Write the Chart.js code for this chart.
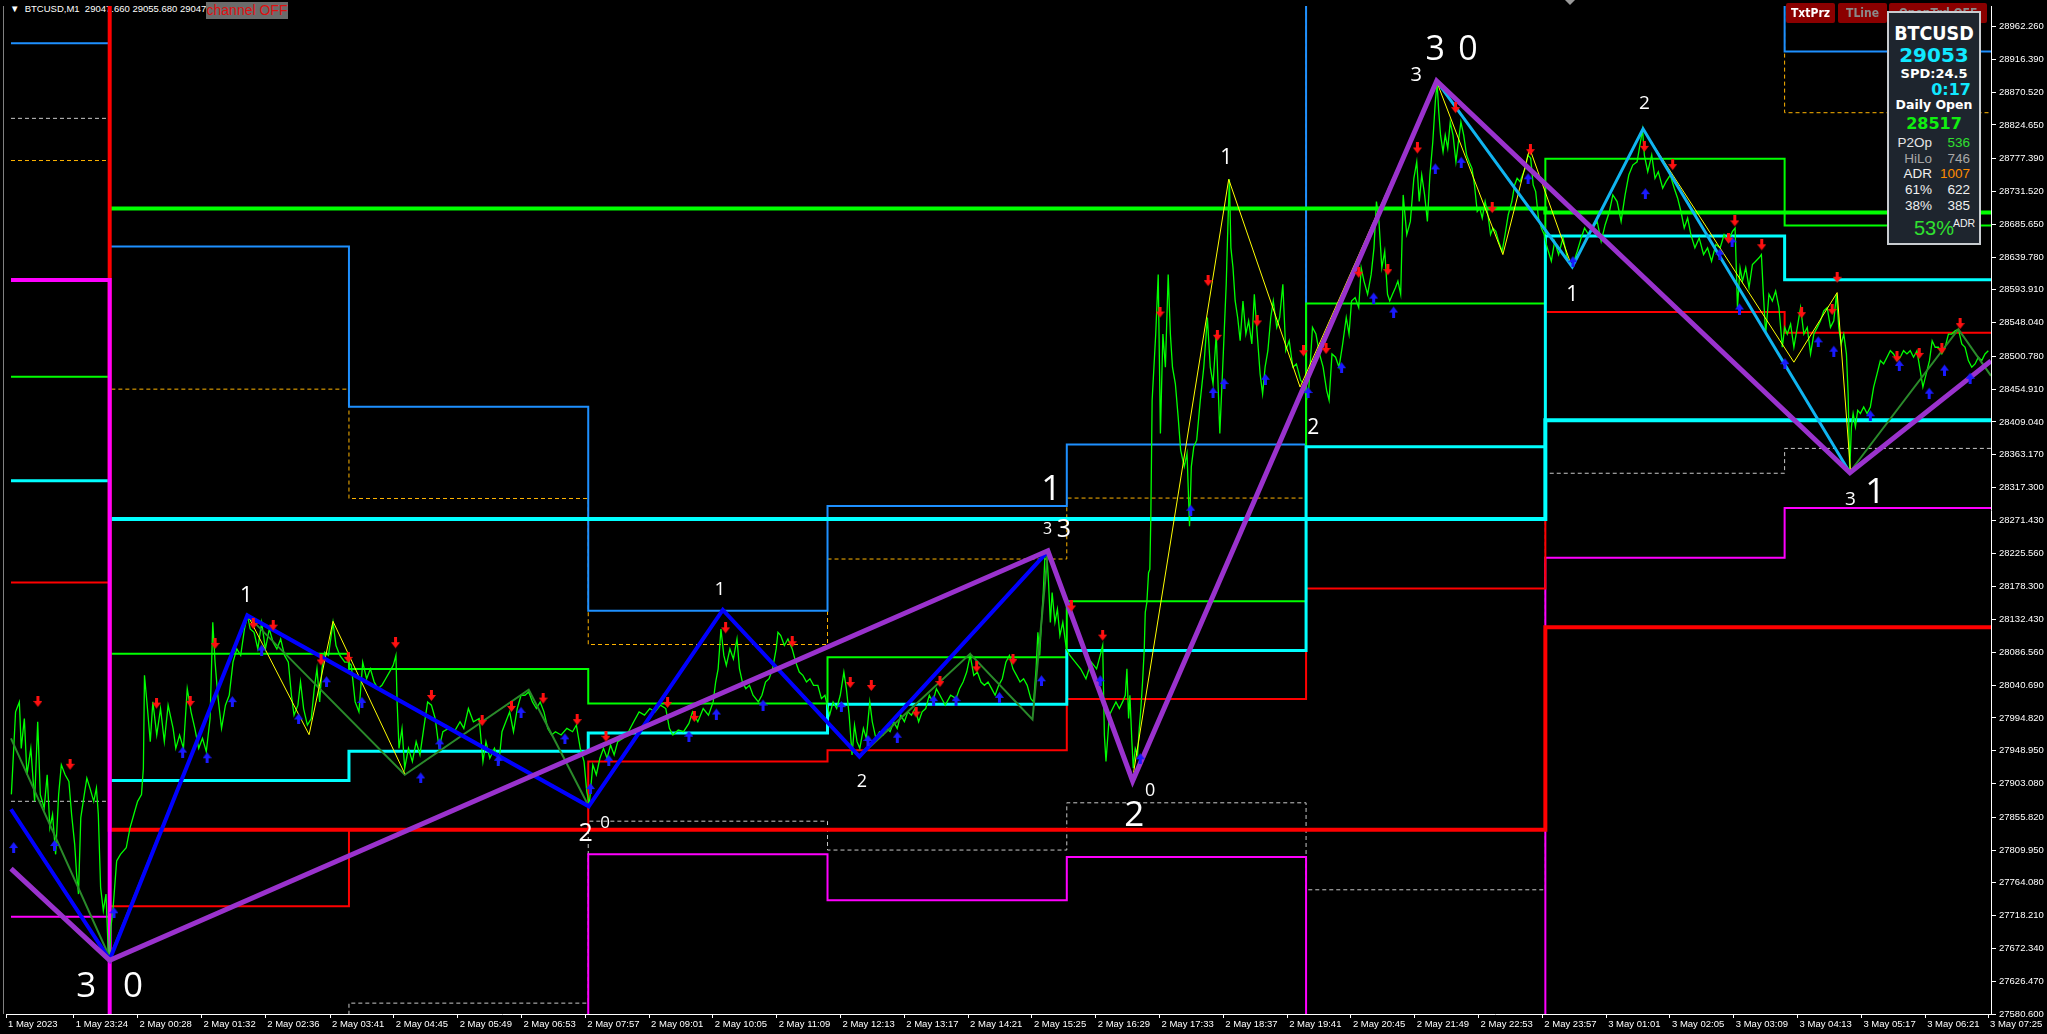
<!DOCTYPE html>
<html><head><meta charset="utf-8">
<script src="https://cdn.jsdelivr.net/npm/chart.js@4.4.1/dist/chart.umd.min.js"></script>
<style>
html,body{margin:0;padding:0;background:#000;overflow:hidden;}
#wrap{position:relative;width:2047px;height:1034px;background:#000;}
#chartBox{position:absolute;left:0;top:0;width:2047px;height:1034px;z-index:1;}
.abs{position:absolute;white-space:nowrap;}
#hdr{left:10px;top:2px;z-index:0;color:#fff;font:9.5px 'Liberation Sans',sans-serif;line-height:13px;}
#chOff{left:206px;top:2px;width:82px;height:17px;background:#6b6b6b;color:#e01010;z-index:2;font:14px 'Liberation Sans',sans-serif;line-height:17px;text-align:center;}
.btn{top:3px;height:20px;background:#8b0000;z-index:2;font:bold 12px 'DejaVu Sans Condensed','Liberation Sans',sans-serif;line-height:20px;text-align:center;border-radius:2px;}
#panel{left:1887px;top:11px;width:94px;height:234px;box-sizing:border-box;background:#1e252e;border:2px solid #c8ccd0;z-index:3;}
.pt{z-index:4;line-height:1;}
#tri{left:1565px;top:0;width:0;height:0;border-left:5px solid transparent;border-right:5px solid transparent;border-top:5px solid #9a9a9a;z-index:2;}
</style></head>
<body><div id="wrap">
<div id="hdr" class="abs">&#9660;&nbsp; BTCUSD,M1&nbsp; 29047.660 29055.680 29047.6</div>
<div id="chartBox"><canvas id="c"></canvas></div>
<div id="chOff" class="abs">channel OFF</div>
<div id="tri" class="abs"></div>
<div class="abs btn" style="left:1786px;width:49px;color:#fff;">TxtPrz</div>
<div class="abs btn" style="left:1838px;width:49px;color:#8a8a8a;">TLine</div>
<div class="abs btn" style="left:1889px;width:98px;color:#8a8a8a;">OpenTrd OFF</div>
<div id="panel" class="abs"></div>
<div class="abs pt" style="left:1887px;width:94px;top:22px;text-align:center;color:#fff;font:bold 19.5px 'DejaVu Sans Condensed','DejaVu Sans',sans-serif;">BTCUSD</div>
<div class="abs pt" style="left:1887px;width:94px;top:43px;text-align:center;color:#10e8ff;font:bold 20px 'DejaVu Sans',sans-serif;">29053</div>
<div class="abs pt" style="left:1887px;width:94px;top:66px;text-align:center;color:#fff;font:bold 13px 'DejaVu Sans',sans-serif;">SPD:24.5</div>
<div class="abs pt" style="left:1887px;width:84px;top:80px;text-align:right;color:#10e8ff;font:bold 16px 'DejaVu Sans',sans-serif;">0:17</div>
<div class="abs pt" style="left:1887px;width:94px;top:97px;text-align:center;color:#fff;font:bold 12.5px 'DejaVu Sans',sans-serif;">Daily Open</div>
<div class="abs pt" style="left:1887px;width:94px;top:114px;text-align:center;color:#10f010;font:bold 16px 'DejaVu Sans',sans-serif;">28517</div>
<div class="abs pt" style="left:1887px;width:45px;top:135px;text-align:right;color:#e6e6e6;font:13.5px 'Liberation Sans',sans-serif;">P2Op</div>
<div class="abs pt" style="left:1935px;width:35px;top:135px;text-align:right;color:#30e030;font:13.5px 'Liberation Sans',sans-serif;">536</div>
<div class="abs pt" style="left:1887px;width:45px;top:151px;text-align:right;color:#a8a8a8;font:13.5px 'Liberation Sans',sans-serif;">HiLo</div>
<div class="abs pt" style="left:1935px;width:35px;top:151px;text-align:right;color:#a8a8a8;font:13.5px 'Liberation Sans',sans-serif;">746</div>
<div class="abs pt" style="left:1887px;width:45px;top:166px;text-align:right;color:#f0f0f0;font:13.5px 'Liberation Sans',sans-serif;">ADR</div>
<div class="abs pt" style="left:1935px;width:35px;top:166px;text-align:right;color:#ff8c00;font:13.5px 'Liberation Sans',sans-serif;">1007</div>
<div class="abs pt" style="left:1887px;width:45px;top:182px;text-align:right;color:#f0f0f0;font:13.5px 'Liberation Sans',sans-serif;">61%</div>
<div class="abs pt" style="left:1935px;width:35px;top:182px;text-align:right;color:#f0f0f0;font:13.5px 'Liberation Sans',sans-serif;">622</div>
<div class="abs pt" style="left:1887px;width:45px;top:198px;text-align:right;color:#f0f0f0;font:13.5px 'Liberation Sans',sans-serif;">38%</div>
<div class="abs pt" style="left:1935px;width:35px;top:198px;text-align:right;color:#f0f0f0;font:13.5px 'Liberation Sans',sans-serif;">385</div>
<div class="abs pt" style="left:1914px;top:217px;color:#30e030;font:20px 'Liberation Sans',sans-serif;">53%</div>
<div class="abs pt" style="left:1953px;top:217px;color:#f0f0f0;font:10.5px 'Liberation Sans',sans-serif;">ADR</div>
</div>
<script>
// ---------- axis ticks ----------
const xTickPos = [0,68,132,196,260,325,389,453,517,581,645,709,773,837,901,965,1029,1093,1157,1221,1285,1349,1413,1477,1541,1605,1669,1733,1797,1861,1925,1988];
const xTickLabels = ["1 May 2023","1 May 23:24","2 May 00:28","2 May 01:32","2 May 02:36","2 May 03:41","2 May 04:45","2 May 05:49","2 May 06:53","2 May 07:57","2 May 09:01","2 May 10:05","2 May 11:09","2 May 12:13","2 May 13:17","2 May 14:21","2 May 15:25","2 May 16:29","2 May 17:33","2 May 18:37","2 May 19:41","2 May 20:45","2 May 21:49","2 May 22:53","2 May 23:57","3 May 01:01","3 May 02:05","3 May 03:09","3 May 04:13","3 May 05:17","3 May 06:21","3 May 07:25"];
const yTickValues = [28962.26,28916.39,28870.52,28824.65,28777.39,28731.52,28685.65,28639.78,28593.91,28548.04,28500.78,28454.91,28409.04,28363.17,28317.30,28271.43,28225.56,28178.30,28132.43,28086.56,28040.69,27994.82,27948.95,27903.08,27855.82,27809.95,27764.08,27718.21,27672.34,27626.47,27580.60];
const priceMin = 27580.6, priceMax = 28991.0, minuteMax = 1991;

// ---------- M1 close (minutes since 1 May 22:15) ----------
const priceMinute = [
5.4,9.6,13.4,15.3,18.4,21,24.9,28.7,31.8,34.4,38.3,41.3,44,46.7,49.8,52.8,55.5,59.3,63.1,65.8,68.9,70.8,72.7,75,78.5,81.1,84.2,88,90.7,92.6,94.9,97.6,100.3,102.6,104,105.2,
107.2,111,114.8,120.6,124.4,128.2,132,135.9,137.8,138.9,141.6,144.7,147.3,151.2,155,158.8,162.6,167.6,170.3,174.1,178,181.8,185.6,189.4,193.3,197.1,200.9,204.7,207.4,209.7,212.4,216.2,220.1,223.9,227.7,231.5,235.4,239.2,242.2,244.9,248.8,252.6,256.4,260.2,264.1,267.9,271.7,275.5,279.4,283.2,286.3,288.9,292.8,295.4,298.5,302.3,306.2,309.2,311.9,314.6,316.9,319.6,323.4,328,331,334.9,339.8,343.7,
346.3,350.2,354,357.8,361.7,365.5,369.3,373.1,377,380.8,384.6,388.4,391.1,392.3,394.2,397.2,399.9,403.7,407.6,411.4,415.2,419,422.9,426.7,430.5,434.4,438.2,443.9,449.7,455.4,459.2,463.8,468.8,474.6,478.4,481.4,485.3,489.9,494.5,497.5,501.3,505.2,509,512.8,516.6,520.5,524.3,528.1,532,535.8,539.6,543.4,547.3,551.1,556.8,562.6,568.3,572.1,576,579.8,582.5,
585,588.6,592.1,595.7,599.3,602.9,606.4,610,613.6,618.9,624.3,629.6,635,640.4,645.7,651.1,656.4,661.8,665.4,668.9,674.3,679.6,685,688.6,693.9,699.3,704.6,709.3,711.8,714.3,717.1,720,722.5,726.1,729.6,733.2,735.7,738.6,742.1,745.7,749.3,754.6,758.2,761.8,765.4,768.9,772.5,774.3,777.1,780.7,784.3,788.6,792.1,795.7,799.3,802.9,806.4,810,814.3,817.9,821.4,
826.1,829.6,833.2,836.8,840.4,842.9,845.7,848.6,851.1,853.6,856.4,860,862.9,866.4,868.9,872.5,876.1,879.6,883.2,886.8,890.4,893.9,897.5,901.1,904.6,908.2,911.8,915.4,918.9,922.5,926.1,929.6,933.2,936.8,942.1,947.5,952.9,956.4,960,963.6,967.1,970.7,974.3,977.9,981.4,985,988.6,992.1,995.7,999.3,1002.9,1006.4,1010,1013.6,1017.1,1020.7,1024.3,1027.9,1030.7,1033.2,1035,1036.8,1038.6,1040.4,1042.1,1043.9,1045.7,1047.5,1049.3,1052.1,1054.6,1057.1,1060,1063.6,
1067.1,1072.5,1077.9,1083.2,1088.6,1093.9,1097.5,1100,1101.7,1103.3,1106.7,1110,1113.3,1116.7,1120,1122.7,1124.3,1126,1127.3,1129.3,1130.7,1132.7,1135,1136.7,1138.3,1140,1141.7,1142.7,1144.3,1146,1147.3,1148.3,1149.6,1153.2,1155.7,1157.9,1160.4,1162.9,1165.7,1167.9,1170,1172.9,1175.7,1178.2,1181.8,1184.6,1187.1,1188.9,1191.4,1194.3,1197.9,1201.4,1205,1207.9,1210.7,1213.9,1217.5,1221.1,1223.9,1225.7,1227.1,1228.6,1230.7,1232.9,1235.4,1237.9,1240.7,1243.6,1246.4,1249.6,1252.1,1255,1257.9,1260.4,1262.9,1265.7,1268.6,1271.1,1274.6,1277.5,1280.7,1283.6,1287.1,1290.7,1294.3,1298.6,1302.1,
1304.3,1306.8,1310.4,1313.9,1317.5,1321.1,1324.6,1327.1,1330,1333.6,1337.1,1340.7,1344.3,1347.1,1349.6,1353.2,1356.8,1359.3,1362.1,1365.7,1369.3,1372.1,1374.6,1377.1,1380,1382.9,1385.7,1387.9,1390.7,1393.6,1396.1,1398.9,1401.4,1405,1408.6,1412.1,1415,1417.5,1420,1422.9,1425.7,1428.2,1431.1,1433.6,1435.4,1437.1,1438.9,1441.4,1443.6,1446.1,1448.6,1451.4,1454.3,1456.8,1459.3,1462.1,1465,1467.5,1470.4,1472.9,1475.7,1478.2,1480.7,1483.6,1486.4,1489,1491.4,1494.3,1497.1,1500.7,1503.6,1506.8,1510.4,1513.2,1515.7,1518.6,1521.1,1523.9,1526.4,1529.3,1531.8,1534.3,1537.1,1540,1542.9,
1545,1550,1553.3,1557.3,1561.7,1566.7,1571.7,1576,1580,1583.3,1587.3,1591.7,1596,1600,1604,1608.3,1611.7,1616,1620,1624,1627.7,1631.7,1636,1641.5,1643.3,1646.7,1650.7,1654,1657.3,1661.7,1665,1669.3,1673.3,1676.7,1680,1683.3,1686.7,1690,1694,1698.3,1702.7,1706.7,1710.7,1715,1719.3,1723.3,1727.3,1731.7,1734.3,1736.7,1739.3,1741.7,1745,1748.3,1751.7,1755,1758.3,1760.7,1762.7,1765,1768.3,1771.7,1775,1778.3,1781.7,1784,
1786.7,1790,1793.3,1796.7,1800,1803.3,1806.7,1810,1813.3,1816.7,1820,1823.3,1826.7,1830,1833.3,1836,1838.3,1840.7,1843.3,1846,1847.7,1849.3,1851,1852.7,1855,1857.3,1860,1863.3,1866.7,1870,1873.3,1876.7,1880,1883.3,1886.7,1890,1893.3,1896.7,1900,1903.3,1906.7,1910,1913.3,1916.7,1920,1922.7,1926,1929.3,1932,1935,1938.3,1941.7,1945,1948.3,1951.7,1955,1958.3,1961.7,1965,1968.3,1971.7,1975,1978.3,1981.7,1985,1988.3];
const priceClose = [
27887.9,28003.4,28017.3,27952.3,27994.1,27915.3,27952.3,27878.2,27989.5,27887.5,27868.9,27915.3,27841.1,27859.7,27804.0,27887.5,27929.2,27915.3,27906.0,27859.7,27818.0,27776.2,27748.4,27855.0,27887.5,27910.6,27896.7,27878.2,27896.7,27859.7,27757.6,27725.2,27748.4,27665.0,27659.0,27702.0,
27725.2,27794.7,27804.0,27813.2,27841.1,27859.7,27878.2,27887.5,27924.5,28054.4,28012.7,27961.7,28017.3,27971.0,28008.0,27961.7,28012.7,27980.2,27952.3,27971.0,27952.3,28035.8,28003.4,27980.2,27952.3,27966.3,27947.8,27994.1,28128.6,28072.9,28026.6,27980.2,28012.7,28026.6,28072.9,28091.4,28082.3,28119.3,28137.9,28119.3,28114.7,28091.4,28128.6,28091.4,28119.3,28100.8,28091.4,28105.3,28082.3,28072.9,28026.6,27998.8,28012.7,28045.1,28008.0,27984.9,27994.1,28035.8,28063.6,28017.3,28063.6,28086.9,28082.3,28128.6,28096.2,28082.3,28072.9,28072.9,
28068.4,28017.3,28003.4,28072.9,28049.7,28063.6,28045.1,28035.8,28040.5,28049.7,28059.0,28068.4,28082.3,28017.3,27952.3,27980.2,27924.5,27952.3,27933.8,27961.7,27943.2,27980.2,28017.3,28012.7,27994.1,27952.3,27975.6,27980.2,27975.6,27989.5,27980.2,28008.0,27989.5,27994.1,27933.8,27961.7,27938.4,27952.3,27933.8,27975.6,27989.5,28003.4,27975.6,28008.0,28026.6,28026.6,28031.2,28017.3,28008.0,28017.3,28003.4,27980.2,27971.0,27975.6,27971.0,27980.2,27975.6,27984.9,27952.3,27933.8,27892.1,
27873.6,27929.2,27915.3,27938.4,27952.3,27938.4,27957.1,27943.2,27961.7,27966.3,27975.6,27989.5,28003.4,27998.8,28008.0,28003.4,28012.7,28008.0,27980.2,27971.0,27977.9,27975.6,27987.1,28003.4,27989.5,28008.0,27998.8,28017.3,28045.1,28063.6,28119.3,28082.3,28068.4,28091.4,28077.5,28105.3,28063.6,28045.1,28035.8,28040.5,28026.6,28017.3,28026.6,28045.1,28049.7,28063.6,28091.4,28114.7,28110.1,28096.2,28105.3,28091.4,28072.9,28059.0,28054.4,28045.1,28049.7,28040.5,28040.5,28021.9,28026.6,
27998.8,28017.3,28008.0,28026.6,28059.0,28035.8,27998.8,27943.2,27984.9,27961.7,27952.3,27980.2,27966.3,28017.3,27989.5,27966.3,27975.6,27971.0,27980.2,27975.6,27989.5,27980.2,27998.8,27989.5,28003.4,27998.8,28008.0,27989.5,28003.4,28008.0,28026.6,28017.3,28035.8,28026.6,28012.7,28026.6,28021.9,28035.8,28045.1,28059.0,28082.3,28054.4,28059.0,28045.1,28040.5,28045.1,28035.8,28026.6,28040.5,28049.7,28072.9,28082.3,28063.6,28054.4,28045.1,28049.7,28040.5,28021.9,28017.3,28063.6,28114.7,28082.3,28128.6,28170.3,28222.0,28226.0,28184.2,28128.6,28170.3,28128.6,28147.1,28110.1,28128.6,28091.4,
28082.3,28072.9,28063.6,28049.7,28072.9,28063.6,28082.3,28096.2,27971.0,27933.8,27998.8,28008.0,28017.3,28008.0,28017.3,28026.6,28063.6,27994.1,28026.6,27961.7,27924.5,27952.3,27943.2,27980.2,28008.0,28045.1,28091.4,28142.5,28156.4,28198.1,28202.7,28277.0,28439.2,28532.0,28615.4,28392.9,28532.0,28485.6,28615.4,28532.0,28485.6,28462.4,28416.1,28369.6,28346.5,28365.1,28263.1,28346.5,28374.4,28383.5,28439.2,28485.6,28555.2,28485.6,28462.4,28532.0,28392.9,28508.7,28601.5,28689.6,28748.5,28652.6,28624.7,28578.3,28555.2,28522.6,28578.3,28532.0,28550.5,28518.1,28587.6,28532.0,28476.3,28448.5,28485.6,28508.7,28555.2,28578.3,28541.3,28555.2,28601.5,28508.7,28522.6,28485.6,28490.2,28467.0,28462.4,
28439.2,28457.8,28541.3,28532.0,28504.2,28485.6,28453.1,28439.2,28504.2,28499.6,28485.6,28518.1,28555.2,28532.0,28578.3,28583.0,28569.1,28624.7,28606.1,28587.6,28615.4,28652.6,28717.4,28689.6,28624.7,28647.8,28587.6,28578.3,28587.6,28596.9,28606.1,28587.6,28726.7,28671.1,28689.6,28749.9,28773.0,28717.4,28754.5,28726.7,28689.6,28754.5,28800.8,28856.5,28884.0,28842.6,28810.2,28786.9,28810.2,28791.7,28828.7,28810.2,28773.0,28800.8,28828.7,28810.2,28782.4,28773.0,28763.8,28740.6,28703.5,28708.2,28694.3,28717.4,28698.9,28671.1,28680.4,28675.7,28661.7,28647.8,28671.1,28698.9,28717.4,28740.6,28749.9,28745.2,28754.5,28763.8,28782.4,28777.8,28740.6,28731.3,28694.3,28680.4,28671.1,
28657.2,28633.9,28661.7,28643.3,28666.5,28633.9,28629.3,28647.8,28666.5,28680.4,28671.1,28680.4,28689.6,28661.7,28685.0,28703.5,28726.7,28717.4,28689.6,28726.7,28754.5,28768.4,28773.0,28818.0,28782.4,28759.1,28782.4,28749.9,28759.1,28736.0,28745.2,28754.5,28736.0,28722.1,28703.5,28680.4,28694.3,28671.1,28652.6,28666.5,28643.3,28652.6,28633.9,28657.2,28652.6,28671.1,28661.7,28675.7,28680.4,28569.1,28624.7,28606.1,28624.7,28596.9,28629.3,28633.9,28638.7,28643.3,28587.6,28532.0,28587.6,28578.3,28592.2,28569.1,28513.5,28541.3,
28532.0,28545.9,28513.5,28541.3,28569.1,28532.0,28541.3,28504.2,28532.0,28541.3,28550.5,28564.4,28569.1,28541.3,28550.5,28587.6,28541.3,28518.1,28532.0,28504.2,28448.5,28340.0,28402.2,28420.7,28402.2,28425.3,28420.7,28430.0,28420.7,28430.0,28457.8,28476.3,28494.8,28490.2,28499.6,28508.7,28504.2,28494.8,28499.6,28508.7,28504.2,28508.7,28499.6,28508.7,28480.9,28457.8,28476.3,28494.8,28522.6,28513.5,28513.5,28504.2,28513.5,28532.0,28532.0,28536.6,28538.9,28518.1,28513.5,28494.8,28485.6,28490.2,28499.6,28494.8,28504.2,28508.7];

// ---------- zigzag swings ----------
const purpleMinute = [5,104,1045,1130,1435,1849.5,1991];
const purplePrice  = [27784.0,27655.6,28228.7,27906.7,28886.0,28337.9,28494.4];
const blueZzMinute = [5,104,242,584.5,719,856,1045];
const blueZzPrice  = [27867.1,27656.5,28138.3,27871.2,28146.0,27940.8,28228.0];
const skyZzMinute  = [1435,1571,1642,1849.5];
const skyZzPrice   = [28886.0,28625.9,28819.2,28337.9];
const yellowMinute = [242,304,328,400,700,1131,1226.4,1298,1434.6,1501.4,1528.3,1571,1641.7,1793.3,1836.7,1850];
const yellowPrice  = [28139.7,27971.4,28130.0,27916.7,null,27918.5,28748.5,28457.8,28886.7,28643.2,28791.7,28624.8,28819.5,28492.6,28590.0,28341.8];
const dkGreenMinute = [5,104,242,400,524.3,584.5,719,856,967,1029.6,1045,1400,1850,1958.3,1991];
const dkGreenPrice  = [27966.3,27659.8,28138.3,27915.3,28034.4,27871.2,28146.0,27940.8,28084.5,27992.7,28227.3,null,28340.0,28538.9,28473.5];

// ---------- fractal arrows ----------
const redArrowMinute = [32,64.3,151,184.8,209.7,248,268,316,343.3,390.7,426.7,477.6,507,538.8,572.9,601.8,663.6,690.4,721.8,788.6,846.8,867.9,912.9,936.8,973.6,1010,1068.6,1100,1157.5,1205.7,1215,1255,1301.4,1324,1356.8,1386,1415.7,1454,1490.7,1529,1643.3,1671.7,1734,1727.7,1761,1801,1831.7,1836.7,1896.7,1919,1941.7,1960];
const redArrowPrice = [28017.3,27929.3,28014.9,28017.3,28098.4,28126.2,28124.0,28075.3,28078.9,28099.4,28025.6,27990.5,28010.3,28021.9,27991.8,27968.6,28015.9,27996.4,28120.2,28100.8,28043.7,28039.6,28002.4,28045.1,28065.6,28076.1,28150.8,28110.1,28562.1,28606.1,28529.6,28549.6,28507.9,28511.1,28617.8,28621.4,28791.7,28848.1,28708.2,28789.3,28793.9,28768.4,28689.6,28665.5,28656.2,28561.2,28565.8,28610.8,28499.6,28504.2,28511.1,28545.9];
const blueArrowMinute = [7.7,48.6,108.3,177.2,201.7,227,256.4,293.5,321.5,357,416,435,493.7,516.6,560.6,586.3,604.6,685,712.5,759.3,837.9,864.6,894,930.4,952.9,996.4,1038.6,1097.5,1137.7,1188.3,1210.7,1221.8,1263.2,1306,1339.6,1371.8,1391.8,1433.6,1459.6,1526.7,1571.7,1644.3,1719,1731.3,1738.7,1784.3,1817.7,1833.3,1870,1899,1929,1944.3,1970];
const blueArrowPrice = [27814.2,27817.0,27722.9,27947.8,27939.8,28018.3,28090.6,27994.1,28046.1,28017.3,27911.6,27959.3,27936.2,28003.4,27966.3,27896.7,27936.2,27970.0,28001.0,28013.5,28011.3,27964.0,27968.6,28019.7,28019.7,28024.3,28047.5,28047.5,27938.4,28286.2,28450.9,28463.4,28469.4,28450.9,28485.6,28583.0,28563.5,28763.8,28773.0,28749.9,28633.9,28729.1,28644.6,28661.7,28567.7,28491.2,28521.8,28508.7,28418.3,28488.8,28449.9,28482.3,28470.8];

// ---------- H4 pivot levels (session start minutes) ----------
const sessionStart = [5,104,344,584,824,1064,1304,1544,1784];
const h4Blue    = [28938.8,28654.4,28430.4,28144.9,28291.3,28377.6,29150,29150,28927.4];
const h4Orange  = [28774.8,28454.9,28301.9,28097.6,28217.2,28302.5,29150,29150,28841.7];
const h4White   = [28833.8,27400,27595.8,27850.4,27810.0,27876.1,27754.4,28337.2,28372.0];
const h4Green   = [28472.3,28084.5,28063.2,28014.9,28079.9,28158.2,28574.7,28777.2,28684.0];
const h4Cyan    = [28326.8,27907.4,27948.2,27973.8,28014.1,28089.2,28374.4,28669.3,28608.1];
const h4Red     = [28184.2,27731.2,27838.3,27933.8,27949.6,28021.5,28175.9,28563.0,28533.8];
const h4Magenta = [27716.8,27400,27400,27804.1,27739.8,27800.3,27400,28219.0,28288.5];
const prevWhite2 = [27878.2];
// ---------- daily levels ----------
const dayStart = [5,104,1544];
const dGreen   = [null,28707.7,28702.1];
const dCyan    = [null,28273.2,28411.4];
const dRed     = [29150,27838.3,28121.6];
const dMagenta = [28607.5,27400,27400];

// ---------- wave count labels ----------
const waveText  = ["3","0","1","2","0","1","2","1","3","3","0","2","1","2","3","3","0","1","2","3","1"];
const waveMinute= [80.4,127.4,241.1,581.4,601,716,858.6,1048.5,1044.6,1061,1147.7,1131.7,1223.9,1311.1,1414.6,1433.6,1466.4,1571.1,1643.3,1850,1875];
const wavePrice = [27618.5,27618.5,28165.7,27832.7,27847.2,28174.9,27906.0,28313.6,28258.4,28257.5,27892.1,27857.3,28778.6,28401.2,28894.6,28928.4,28928.4,28586.6,28854.3,28300.1,28309.4];
const waveSize  = [35,35,22,25,17,19,18,35,16,25,18,35,21,21,20,34,34,21,19,19,35];

// ---------- helpers ----------
const pts = (xs, ys) => xs.map((x, i) => ({x, y: ys[i]}));
const stepPts = (starts, vals) => { const d = pts(starts, vals); d.push({x: minuteMax, y: vals[vals.length-1]}); return d; };
function makeArrow(color, down){
  const c = document.createElement('canvas'); c.width = 9; c.height = 12;
  const g = c.getContext('2d'); g.fillStyle = color; g.beginPath();
  if (down){ g.fillRect(3,0,3,6); g.moveTo(0,5); g.lineTo(9,5); g.lineTo(4.5,11); }
  else { g.fillRect(3,6,3,6); g.moveTo(0,7); g.lineTo(9,7); g.lineTo(4.5,1); }
  g.closePath(); g.fill(); return c;
}
const lineDs = (data, color, width, order, extra) => Object.assign({type:'line', data, borderColor: color, borderWidth: width, pointRadius: 0, tension: 0, fill: false, order, spanGaps: false}, extra || {});
const stepDs = (starts, vals, color, width, order, dash) => lineDs(stepPts(starts, vals), color, width, order, {stepped: true, borderDash: dash || [], borderCapStyle: 'butt'});

const axisFont = {family: "'Liberation Sans',sans-serif", size: 9.5};

const wavePlugin = {
  id: 'waveLabels',
  beforeDatasetsDraw(chart){
    const {ctx, chartArea} = chart;
    ctx.save(); ctx.strokeStyle = '#808080'; ctx.lineWidth = 1;
    ctx.beginPath(); ctx.moveTo(3.5, chartArea.top); ctx.lineTo(3.5, chartArea.bottom); ctx.stroke(); ctx.restore();
  },
  afterDatasetsDraw(chart){
    const {ctx, chartArea, scales} = chart;
    ctx.save(); ctx.beginPath(); ctx.rect(chartArea.left, chartArea.top, chartArea.width, chartArea.height); ctx.clip();
    ctx.fillStyle = '#ffffff'; ctx.textAlign = 'center'; ctx.textBaseline = 'middle';
    waveText.forEach((t, i) => {
      ctx.font = waveSize[i] + "px 'Open Sans','DejaVu Sans',sans-serif";
      ctx.fillText(t, scales.x.getPixelForValue(waveMinute[i]), scales.y.getPixelForValue(wavePrice[i]));
    });
    ctx.restore();
  }
};

const datasets = [
  {type:'line', data: pts(redArrowMinute, redArrowPrice), showLine:false, pointStyle: makeArrow('#ff1010', true), pointRadius: 5, order: 1},
  {type:'line', data: pts(blueArrowMinute, blueArrowPrice), showLine:false, pointStyle: makeArrow('#1a1aff', false), pointRadius: 5, order: 2},
  lineDs(pts(purpleMinute, purplePrice), '#9a32cd', 5, 3),
  lineDs(pts(skyZzMinute, skyZzPrice), '#10b4f0', 3, 4),
  lineDs(pts(blueZzMinute, blueZzPrice), '#0000ff', 4, 5),
  lineDs(pts(yellowMinute, yellowPrice), '#ffff00', 1, 6),
  lineDs(pts(dkGreenMinute, dkGreenPrice), '#2a8a2a', 2, 7),
  lineDs(pts(priceMinute, priceClose), '#00ff00', 1.3, 8),
  stepDs(dayStart, dMagenta, '#ff00ff', 4, 10),
  stepDs(dayStart, dRed, '#ff0000', 4, 11),
  stepDs(dayStart, dCyan, '#00ffff', 4, 12),
  stepDs(dayStart, dGreen, '#00ff00', 4, 13),
  stepDs(sessionStart, h4Cyan, '#00ffff', 3, 14),
  stepDs(sessionStart, h4Green, '#00ff00', 2, 15),
  stepDs(sessionStart, h4Red, '#ff0000', 2, 16),
  stepDs(sessionStart, h4Magenta, '#ff00ff', 2, 17),
  stepDs(sessionStart, h4Blue, '#1e90ff', 2, 18),
  stepDs(sessionStart, h4Orange, '#ffb400', 1, 19, [4,3]),
  stepDs(sessionStart, h4White, '#c8c8c8', 1, 20, [4,3]),
  lineDs(pts([sessionStart[0], sessionStart[1]], [prevWhite2[0], prevWhite2[0]]), '#c8c8c8', 1, 21, {borderDash:[4,3]})
];

new Chart(document.getElementById('c'), {
  type: 'line',
  data: {datasets},
  options: {
    animation: false, responsive: true, maintainAspectRatio: false,
    layout: {padding: 0},
    plugins: {legend: {display: false}, tooltip: {enabled: false}},
    events: [],
    scales: {
      x: {
        type: 'linear', position: 'bottom', min: 0, max: minuteMax,
        afterBuildTicks: s => { s.ticks = xTickPos.map(v => ({value: v})); },
        afterFit: s => { s.height = 20; s.paddingLeft = 0; s.paddingRight = 0; },
        ticks: {autoSkip: false, maxRotation: 0, minRotation: 0, align: 'start', labelOffset: 2, padding: 1, color: '#ffffff', font: axisFont,
                callback: (v, i) => xTickLabels[i]},
        grid: {display: true, drawOnChartArea: false, drawTicks: true, tickLength: 4, color: '#ffffff'},
        border: {display: true, color: '#ffffff', width: 1}
      },
      y: {
        type: 'linear', position: 'right', min: priceMin, max: priceMax,
        afterBuildTicks: s => { s.ticks = yTickValues.map(v => ({value: v})); },
        afterFit: s => { s.width = 56; s.paddingTop = 0; s.paddingBottom = 0; },
        ticks: {autoSkip: false, padding: 3, color: '#ffffff', font: axisFont, callback: v => Number(v).toFixed(3)},
        grid: {display: true, drawOnChartArea: false, drawTicks: true, tickLength: 5, color: '#ffffff'},
        border: {display: true, color: '#ffffff', width: 1}
      }
    }
  },
  plugins: [wavePlugin]
});
</script>
</body></html>
